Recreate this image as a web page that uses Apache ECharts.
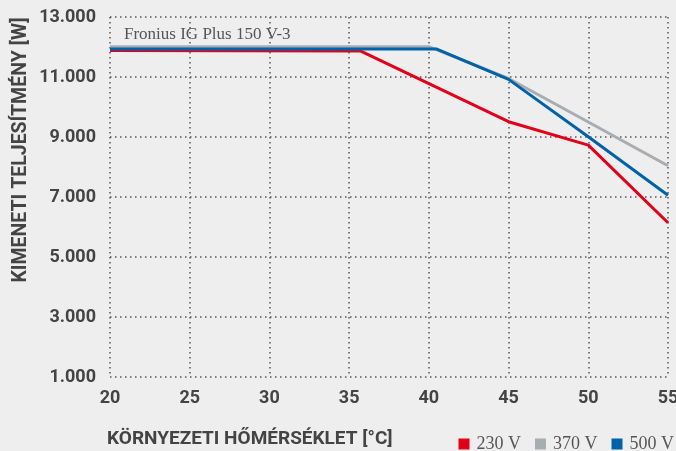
<!DOCTYPE html>
<html>
<head>
<meta charset="utf-8">
<script src="https://cdn.jsdelivr.net/npm/echarts@6/dist/echarts.min.js"></script>
<style>
  html, body { margin: 0; padding: 0; background: #eeeeee; }
  #chart { width: 676px; height: 451px; }
</style>
</head>
<body>
<div id="chart"></div>
<script>
// temperature [°C] / output power [W] pairs per input voltage
const series230 = [[20, 11880], [35.7, 11870], [45, 9510], [50, 8730], [55, 6140]]
const series370 = [[20, 12010], [40, 12010], [45, 10950], [50, 9500], [55, 8040]]
const series500 = [[20, 11930], [40.5, 11930], [45, 10920], [50, 9010], [55, 7060]]
const seriesNames = ['230 V', '370 V', '500 V']
const seriesColors = ['#e2001a', '#a7adb1', '#0062a8']

const boldFont = "Roboto, 'DejaVu Sans', sans-serif"
const serifFont = "'Liberation Serif', 'DejaVu Serif', serif"
const labelColor = '#444444'
const dotted = { type: [1.5, 3.5], color: '#555555', width: 1.5 }

let chartDom = document.getElementById('chart')
let myChart = echarts.init(chartDom, null, { renderer: 'canvas' })

function lineSeries(name, data, color) {
    return {
        name: name,
        type: 'line',
        data: data,
        symbol: 'none',
        color: color,
        lineStyle: { width: 3, color: color },
        animation: false
    }
}

myChart.setOption({
    backgroundColor: '#eeeeee',
    title: [
        {
            text: 'Fronius IG Plus 150 V-3',
            left: 119, top: 21,
            textStyle: { fontFamily: serifFont, fontWeight: 'normal', fontSize: 17, color: '#555555' }
        },
        {
            text: 'KÖRNYEZETI HŐMÉRSÉKLET [°C]',
            left: 102, top: 425,
            textStyle: { fontFamily: boldFont, fontWeight: 'bold', fontSize: 19, color: labelColor }
        }
    ],
    graphic: [{
        type: 'text',
        x: 21, y: 150,
        rotation: Math.PI / 2,
        style: {
            text: 'KIMENETI TELJESÍTMÉNY [W]',
            fontFamily: boldFont, fontWeight: 'bold', fontSize: 19.5,
            fill: labelColor, align: 'center', verticalAlign: 'middle'
        }
    }],
    legend: {
        data: seriesNames,
        right: -3, top: 430,
        itemWidth: 11, itemHeight: 11, itemGap: 14,
        icon: 'rect',
        textStyle: { fontFamily: serifFont, fontSize: 18, color: '#555555', padding: [0, 0, 0, 2] }
    },
    grid: { left: 110, right: 8, top: 17, bottom: 74, outerBoundsMode: 'none' },
    xAxis: {
        type: 'value',
        min: 20, max: 55, interval: 5,
        axisLine: { show: false },
        axisTick: { show: false },
        axisLabel: { fontFamily: boldFont, fontWeight: 'bold', fontSize: 18, color: labelColor, margin: 12 },
        splitLine: { show: true, lineStyle: dotted }
    },
    yAxis: {
        type: 'value',
        min: 1000, max: 13000, interval: 1000,
        axisLine: { show: false },
        axisTick: { show: false },
        axisLabel: {
            fontFamily: boldFont, fontWeight: 'bold', fontSize: 18, color: labelColor, margin: 14,
            formatter: function (v) {
                if ((v / 1000) % 2 === 0) return ''
                return String(v).replace(/\B(?=(\d{3})+(?!\d))/g, '.')
            }
        },
        splitLine: { show: true, lineStyle: { type: dotted.type, width: 1.5, color: ['#555555', 'rgba(0,0,0,0)'] } }
    },
    series: [
        lineSeries(seriesNames[1], series370, seriesColors[1]),
        lineSeries(seriesNames[0], series230, seriesColors[0]),
        lineSeries(seriesNames[2], series500, seriesColors[2])
    ]
})

window.addEventListener('resize', () => {
    myChart.resize()
})
</script>
</body>
</html>
